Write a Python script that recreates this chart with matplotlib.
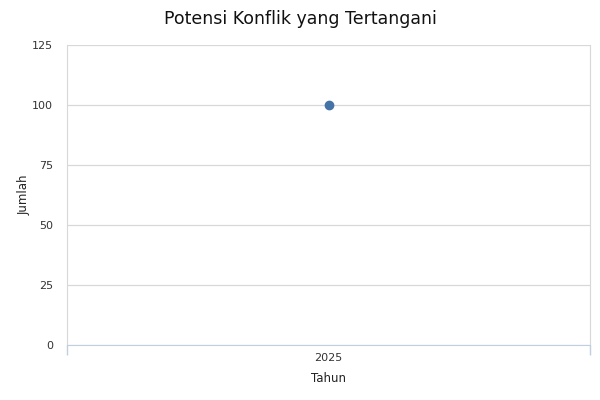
import matplotlib
matplotlib.use("Agg")
import matplotlib.pyplot as plt

# data
years = ["2025"]
jumlah = [100]
y_ticks = [0, 25, 50, 75, 100, 125]

fig = plt.figure(figsize=(6, 4), dpi=100)
ax = fig.add_axes([67/600, 1-345/400, 523/600, 300/400])

x = list(range(len(years)))
ax.plot(x, jumlah, "o", color="#4572a7", markersize=6, zorder=3, clip_on=False)

ax.set_xlim(-0.5, len(years) - 0.5)
ax.set_ylim(0, 125)
ax.set_yticks(y_ticks)
ax.yaxis.grid(True, color="#d8d8d8", linewidth=0.9)
ax.set_axisbelow(True)

ax.set_xticks(x)
ax.set_xticklabels(years)
ax.set_xticks([i - 0.5 for i in range(len(years) + 1)], minor=True)
ax.tick_params(axis="x", which="major", length=0, pad=6, labelsize=8, colors="#333333")
ax.tick_params(axis="x", which="minor", length=7, width=1, color="#c0d0e0")
ax.tick_params(axis="y", length=0, pad=10, labelsize=8, colors="#333333")

ax.spines["top"].set_visible(False)
ax.spines["left"].set_color("#d8d8d8")
ax.spines["right"].set_color("#d8d8d8")
ax.spines["bottom"].set_color("#c0d0e0")

ax.set_xlabel("Tahun", fontsize=8.5, labelpad=6, color="#222222")
ax.set_ylabel("Jumlah", fontsize=8.5, labelpad=1, color="#222222")
fig.suptitle("Potensi Konflik yang Tertangani", fontsize=12.5, y=0.975, color="#111111")

fig.savefig("out.png", dpi=100)
